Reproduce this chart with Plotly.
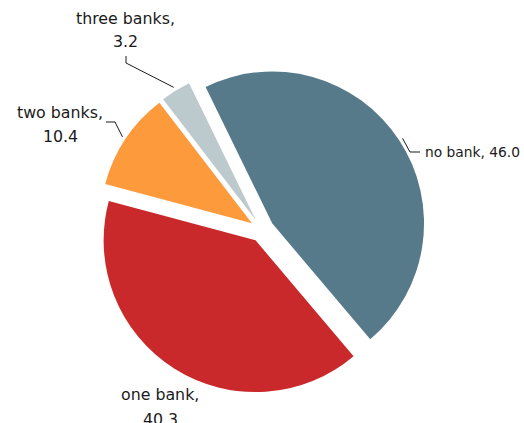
import math
import plotly.graph_objects as go

categories = ["no bank", "one bank", "two banks", "three banks"]
values = [46.0, 40.3, 10.4, 3.2]
label_line1 = ["no bank, 46.0", "one bank,", "two banks,", "three banks,"]
label_line2 = ["", "40.3", "10.4", "3.2"]
colors = ["#577a8a", "#c9292b", "#fd9a3c", "#bcc9cd"]
pulls = [0.08, 0.08, 0.08, 0.08]
rotation = -26

W, H = 524, 423
MT, MB = 66, 29
plot_h = H - MT - MB

def px(x):
    return x / W

def py(y):
    return (H - MB - y) / plot_h

fig = go.Figure(go.Pie(
    labels=categories,
    values=values,
    textinfo="none",
    sort=False,
    direction="clockwise",
    rotation=rotation,
    pull=pulls,
    marker=dict(colors=colors, line=dict(width=0)),
    showlegend=False,
    hoverinfo="label+value",
))

# geometry of the pie (matches plotly's layout of the pie in the plot area)
cx, cy = W / 2, MT + plot_h / 2
r = min(W, plot_h) / 2 / (1 + max(pulls))
total = sum(values)
anchors = []
acc = 0.0
for v, p in zip(values, pulls):
    mid = rotation + 360 * (acc + v / 2) / total
    acc += v
    a = math.radians(mid)
    d = r * (1 + p + 0.025)
    anchors.append((cx + d * math.sin(a), cy - d * math.cos(a)))

# label placement (pixel positions) and elbow points of leader lines
label_pos = {
    0: dict(x=423, y=152, size=13.8, anchor="left"),
    1: dict(x=160, y=395, size=15.8, anchor="center"),
    2: dict(x=60, y=112, size=15.8, anchor="center"),
    3: dict(x=125.5, y=18, size=15.8, anchor="center"),
}
line_gap = 24
elbows = {
    0: [(410, 152), (420, 152)],
    2: [(115, 122), (106, 122)],
    3: [(126, 63), (126, 56)],
}

annotations = []
for i in range(len(categories)):
    lp = label_pos[i]
    annotations.append(dict(
        x=px(lp["x"]), y=py(lp["y"]), xref="paper", yref="paper",
        text=label_line1[i], showarrow=False, xanchor=lp["anchor"], yanchor="middle",
        font=dict(family="DejaVu Sans", size=lp["size"], color="#1a1a1a"),
    ))
    if label_line2[i]:
        annotations.append(dict(
            x=px(lp["x"]), y=py(lp["y"] + line_gap), xref="paper", yref="paper",
            text=label_line2[i], showarrow=False, xanchor=lp["anchor"], yanchor="middle",
            font=dict(family="DejaVu Sans", size=lp["size"], color="#1a1a1a"),
        ))

shapes = []
for i, pts in elbows.items():
    allpts = [anchors[i]] + pts
    path = "M " + " L ".join(f"{px(x):.5f},{py(y):.5f}" for x, y in allpts)
    shapes.append(dict(type="path", path=path, xref="paper", yref="paper",
                       line=dict(color="#1a1a1a", width=1)))

fig.update_layout(
    width=W, height=H,
    margin=dict(l=0, r=0, t=MT, b=MB, autoexpand=False),
    paper_bgcolor="white",
    plot_bgcolor="white",
    annotations=annotations,
    shapes=shapes,
)
fig.write_html("out.html")
